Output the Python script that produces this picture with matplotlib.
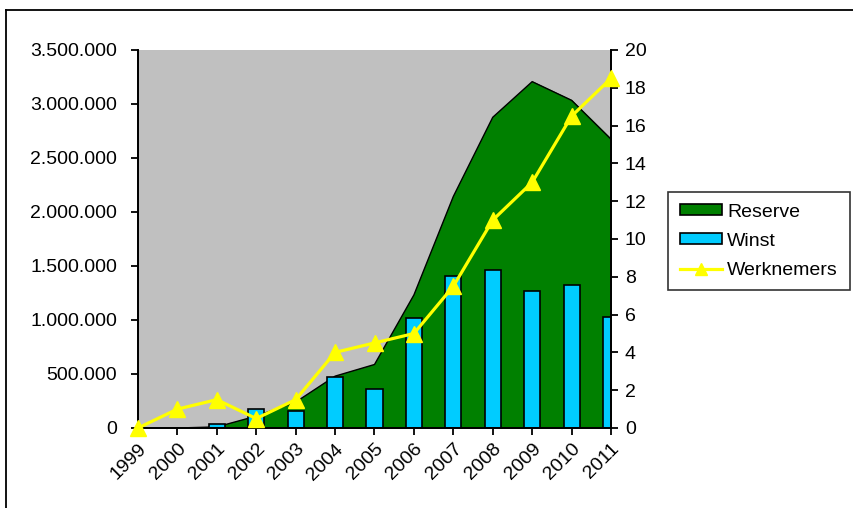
import matplotlib
matplotlib.use("Agg")
import matplotlib.pyplot as plt
from matplotlib.lines import Line2D
from matplotlib.patches import Patch
from matplotlib.ticker import FuncFormatter
import numpy as np

plt.rcParams['font.family'] = ['Liberation Sans', 'DejaVu Sans']

years = ["1999", "2000", "2001", "2002", "2003", "2004", "2005",
         "2006", "2007", "2008", "2009", "2010", "2011"]
reserve = [0, 0, 10000, 110000, 240000, 480000, 588000,
           1232000, 2144000, 2877000, 3207000, 3034000, 2674000]
winst = [0, 0, 37000, 179000, 154000, 474000, 364000,
         1017000, 1411000, 1466000, 1269000, 1325000, 1029000]
werknemers = [0, 1, 1.5, 0.5, 1.5, 4, 4.5, 5, 7.5, 11, 13, 16.5, 18.5]

GREEN = "#008000"
CYAN = "#00CCFF"
YELLOW = "#FFFF00"
GRAY = "#C0C0C0"

fig = plt.figure(figsize=(8.54, 5.08), dpi=100)
ax = fig.add_axes([138/854, 1-428/508, (611-138)/854, (428-50)/508])
ax2 = ax.twinx()

x = np.arange(len(years))
ax.set_facecolor(GRAY)
ax.fill_between(x, reserve, 0, color=GREEN, zorder=1)
ax.plot(x, reserve, color="black", lw=1, zorder=1.5)
ax.bar(x, winst, width=0.41, color=CYAN, edgecolor="black", lw=1.2, zorder=2)
ax.set_xlim(0, len(years) - 1)
ax.set_ylim(0, 3500000)
ax.set_yticks(np.arange(0, 3500001, 500000))
ax.yaxis.set_major_formatter(FuncFormatter(lambda v, p: f"{int(v):,}".replace(",", ".")))
ax.set_xticks(x)
ax.set_xticklabels(years, rotation=45, ha="right", va="top", rotation_mode="anchor")

ax2.plot(x, werknemers, color=YELLOW, lw=2.3, marker="^", markersize=11,
         clip_on=False, zorder=3)
ax2.set_ylim(0, 20)
ax2.set_yticks(np.arange(0, 21, 2))

for a in (ax, ax2):
    a.spines["top"].set_visible(False)
    for s in a.spines.values():
        s.set_linewidth(1.3)
ax.tick_params(axis="y", labelsize=14, length=5, width=1.3, pad=10)
ax.tick_params(axis="x", labelsize=14, length=5, width=1.3, pad=4)
ax2.tick_params(axis="y", labelsize=14, length=5, width=1.3, pad=5)

handles = [Patch(facecolor=GREEN, edgecolor="black", lw=1.2),
           Patch(facecolor=CYAN, edgecolor="black", lw=1.2),
           Line2D([0], [0], color=YELLOW, lw=2.3, marker="^", markersize=9)]
leg = fig.legend(handles, ["Reserve", "Winst", "Werknemers"],
                 loc="upper left", bbox_to_anchor=(668/854, 1-192/508),
                 fontsize=14, frameon=True, fancybox=False,
                 edgecolor="black", handlelength=2.2, handleheight=0.5,
                 handletextpad=0.25, labelspacing=0.62, borderpad=0.6,
                 borderaxespad=0)
leg.get_frame().set_linewidth(1.2)

# outer chart border (top and left)
fig.add_artist(Line2D([6/854, 1], [1-10/508, 1-10/508], color="black", lw=1.3))
fig.add_artist(Line2D([6/854, 6/854], [0, 1-10/508], color="black", lw=1.3))

fig.savefig("out.png", dpi=100)
